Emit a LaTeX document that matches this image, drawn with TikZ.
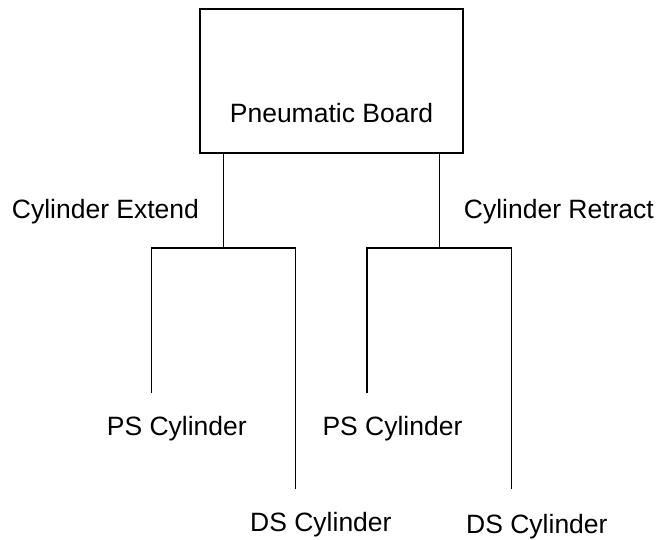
\documentclass[tikz,border=0pt]{standalone}
\usepackage{fontspec}
\setmainfont{Liberation Sans}
\begin{document}
\begin{tikzpicture}[x=1pt,y=-1pt,
  lbl/.style={inner sep=0pt, anchor=base west, font=\fontsize{26.5}{30}\selectfont},
  conn/.style={line width=1.3pt},
  boardbox/.style={draw, line width=2pt, minimum width=263pt, minimum height=144pt, inner sep=0pt}]
\useasboundingbox (0,0) rectangle (658,540);
\node[boardbox] (board) at (331.5,81) {};
\node[lbl, anchor=base] (boardtext) at (331.5,123) {Pneumatic Board};
% junctions
\coordinate (jl) at (223.5,248);
\coordinate (jr) at (439.3,248);
\coordinate (psl) at (151.7,393);
\coordinate (dsl) at (295.7,489);
\coordinate (psr) at (367,393);
\coordinate (dsr) at (511.7,489);
\draw[conn] (board.south -| jl) -- (jl);
\draw[conn] (board.south -| jr) -- (jr);
\draw[conn] (psl) -- (psl |- jl) -- (dsl |- jl) -- (dsl);
\draw[conn] (psr) -- (psr |- jr) -- (dsr |- jr) -- (dsr);
% labels
\node[lbl] (ext) at (11.7,218.5) {Cylinder Extend};
\node[lbl] (ret) at (463.7,218.5) {Cylinder Retract};
\node[lbl] (psltext) at (106.7,435) {PS Cylinder};
\node[lbl] (psrtext) at (322.3,435) {PS Cylinder};
\node[lbl] (dsltext) at (250,531) {DS Cylinder};
\node[lbl] (dsrtext) at (466,533) {DS Cylinder};
\end{tikzpicture}
\end{document}
